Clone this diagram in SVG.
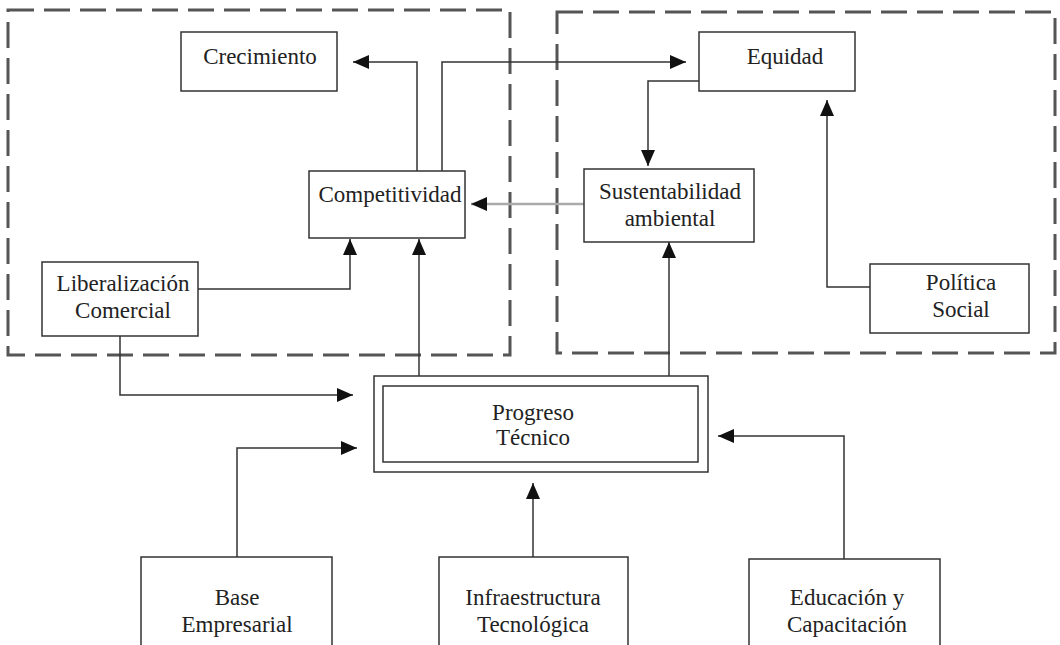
<svg xmlns="http://www.w3.org/2000/svg" width="1060" height="645" viewBox="0 0 1060 645">
<style>
.frame{fill:none;stroke:#555;stroke-width:3;stroke-dasharray:26 10}
.box{fill:#fff;stroke:#333;stroke-width:1.5}
.c{fill:none;stroke:#333;stroke-width:1.5}
.g{fill:none;stroke:#aaa;stroke-width:2.5}
.t{font-family:'Liberation Serif','DejaVu Serif',serif;font-size:23px;fill:#222;text-anchor:middle}
</style>
<defs>
<marker id="ah" markerUnits="userSpaceOnUse" markerWidth="16" markerHeight="14" refX="16" refY="7" orient="auto">
<path d="M0,0 L16,7 L0,14 z" fill="#111"/>
</marker>
</defs>
<rect class="frame" x="8" y="10" width="502" height="345"/>
<rect class="frame" x="557" y="12" width="498" height="341"/>
<g id="connectors">
<path class="c" d="M417,171 V62 H353" marker-end="url(#ah)"/>
<path class="c" d="M442,171 V62 H686" marker-end="url(#ah)"/>
<path class="c" d="M699,81 H648 V166" marker-end="url(#ah)"/>
<path class="g" d="M584,204 H471" marker-end="url(#ah)"/>
<path class="c" d="M198,289 H350 V239" marker-end="url(#ah)"/>
<path class="c" d="M419,376 V239" marker-end="url(#ah)"/>
<path class="c" d="M669,376 V242" marker-end="url(#ah)"/>
<path class="c" d="M870,287 H827 V100" marker-end="url(#ah)"/>
<path class="c" d="M120,336 V395 H353" marker-end="url(#ah)"/>
<path class="c" d="M237,557 V448 H357" marker-end="url(#ah)"/>
<path class="c" d="M533,557 V483" marker-end="url(#ah)"/>
<path class="c" d="M844,559 V436 H718" marker-end="url(#ah)"/>
</g>
<g class="t" font-family="Liberation Serif, DejaVu Serif, serif">
<g id="crecimiento"><rect class="box" x="181" y="32" width="156" height="59"/><text x="260" y="64">Crecimiento</text></g>
<g id="equidad"><rect class="box" x="699" y="32" width="156" height="59"/><text x="785" y="64">Equidad</text></g>
<g id="competitividad"><rect class="box" x="309" y="171" width="156" height="67"/><text x="390" y="202">Competitividad</text></g>
<g id="sustentabilidad"><rect class="box" x="584" y="169" width="170" height="73"/><text x="670" y="199">Sustentabilidad</text><text x="670" y="226">ambiental</text></g>
<g id="liberalizacion"><rect class="box" x="42" y="262" width="156" height="74"/><text x="123" y="291">Liberalización</text><text x="123" y="318">Comercial</text></g>
<g id="politica"><rect class="box" x="870" y="264" width="159" height="69"/><text x="961" y="290">Política</text><text x="961" y="317">Social</text></g>
<g id="progreso"><rect class="box" x="374" y="376" width="334" height="96"/><rect class="box" x="383" y="386" width="315" height="76"/><text x="533" y="420">Progreso</text><text x="533" y="445">Técnico</text></g>
<g id="base"><rect class="box" x="141" y="557" width="191" height="100"/><text x="237" y="605">Base</text><text x="237" y="632">Empresarial</text></g>
<g id="infraestructura"><rect class="box" x="439" y="557" width="189" height="100"/><text x="533" y="605">Infraestructura</text><text x="533" y="632">Tecnológica</text></g>
<g id="educacion"><rect class="box" x="749" y="559" width="191" height="100"/><text x="847" y="605">Educación y</text><text x="847" y="632">Capacitación</text></g>
</g>
</svg>
